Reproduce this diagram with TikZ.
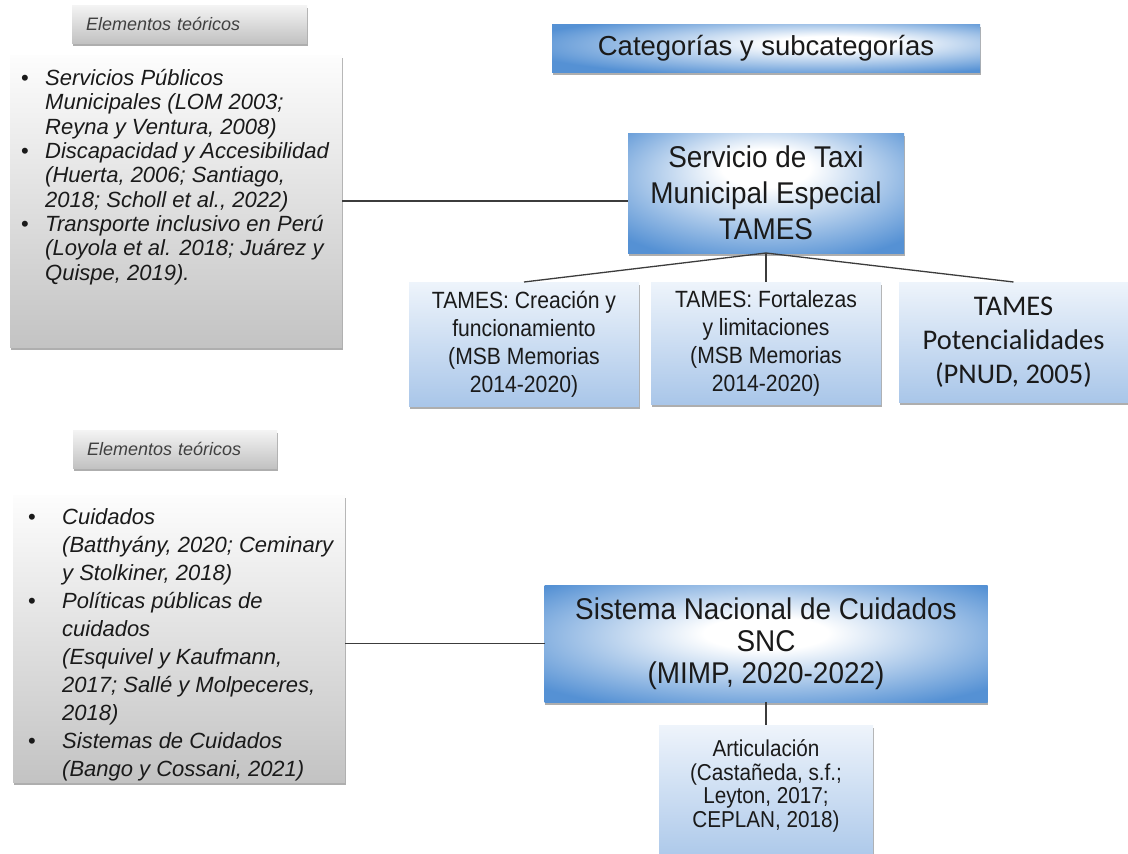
\documentclass[tikz,border=0pt]{standalone}
\usepackage{fontspec}
\setmainfont{Liberation Sans}
\newfontfamily\carlito{Carlito}
\newfontfamily\narrowsans[FakeStretch=0.9]{Liberation Sans}
\newfontfamily\tallsans[FakeStretch=0.93]{Liberation Sans}
\usetikzlibrary{shadows}
\definecolor{bluebox}{HTML}{5591D4}
\definecolor{lbtop}{HTML}{EEF4FB}
\definecolor{lbbot}{HTML}{A9C6E9}
\definecolor{grtop}{HTML}{FDFDFD}
\definecolor{grbot}{HTML}{C3C3C3}
\definecolor{labtop}{HTML}{F4F4F4}
\definecolor{labbot}{HTML}{C2C2C2}
\definecolor{txt}{HTML}{1A1A1A}
\definecolor{conncol}{HTML}{3C3C3C}
\pgfdeclareradialshading{catrad}{\pgfpoint{9bp}{6bp}}{color(0bp)=(white); color(7bp)=(white); color(33bp)=(bluebox); color(60bp)=(bluebox)}
\pgfdeclareradialshading{tamesrad}{\pgfpoint{0bp}{12bp}}{color(0bp)=(white); color(8bp)=(white); color(35bp)=(bluebox); color(60bp)=(bluebox)}
\pgfdeclareradialshading{sncrad}{\pgfpoint{0bp}{5bp}}{color(0bp)=(white); color(7bp)=(white); color(33bp)=(bluebox); color(60bp)=(bluebox)}
\newcommand{\blt}[1]{\makebox[#1][l]{\upshape\textbullet}}
\newcommand{\myind}[1]{\hspace*{#1}}
\tikzset{
  shadowed/.style={drop shadow={shadow xshift=0.8pt,shadow yshift=-3pt,opacity=0.45,fill=black!70}},
  boxbase/.style={rectangle, inner sep=0pt, outer sep=0pt, shadowed, text=txt},
  labbox/.style={boxbase, top color=labtop, bottom color=labbot, inner xsep=14pt, align=left,
    font=\itshape\fontsize{18}{20}\selectfont, text=black!75},
  litbox/.style={boxbase, top color=grtop, bottom color=grbot},
  bigblue/.style={boxbase, align=center},
  childbox/.style={boxbase, top color=lbtop, bottom color=lbbot, align=center,
    font=\narrowsans\fontsize{23.5}{28}\selectfont},
  listtext/.style={anchor=west, inner sep=0pt, align=left, text=txt},
  conn/.style={draw=conncol, line width=1.3pt}
}
\begin{document}
\begin{tikzpicture}[x=1pt,y=-1pt]
\clip (0,0) rectangle (1128,854);
\fill[white] (0,0) rectangle (1128,854);

% top-left group
\node[labbox, minimum width=235pt, minimum height=38pt, text width=207pt] (lab1) at (189.5,24) {Elementos teóricos};
\node[litbox, minimum width=332pt, minimum height=292pt] (lit1) at (176,201) {};
\node[listtext, font=\itshape\fontsize{22}{24.3}\selectfont] (t1) at (21,177) {%
\blt{24pt}Servicios Públicos\\
\myind{24pt}Municipales (LOM 2003;\\
\myind{24pt}Reyna y Ventura, 2008)\\
\blt{24pt}Discapacidad y Accesibilidad\\
\myind{24pt}(Huerta, 2006; Santiago,\\
\myind{24pt}2018; Scholl et al., 2022)\\
\blt{24pt}Transporte inclusivo en Perú\\
\myind{24pt}(Loyola et al. 2018; Juárez y\\
\myind{24pt}Quispe, 2019).};

% header
\node[bigblue, shading=catrad, minimum width=428pt, minimum height=48pt,
  font=\fontsize{27.5}{30}\selectfont] (cat) at (766,48) {Categorías y subcategorías};

% TAMES
\node[bigblue, shading=tamesrad, minimum width=276pt, minimum height=120pt,
  font=\tallsans\fontsize{30}{36}\selectfont] (tames) at (766,193) {Servicio de Taxi\\Municipal Especial\\TAMES};

\node[childbox, minimum width=230pt, minimum height=124pt] (c1) at (524,344)
  {TAMES: Creación y\\funcionamiento\\(MSB Memorias\\2014-2020)};
\node[childbox, minimum width=230pt, minimum height=122pt] (c2) at (766,343)
  {TAMES: Fortalezas\\y limitaciones\\(MSB Memorias\\2014-2020)};
\node[childbox, minimum width=229pt, minimum height=120pt, font=\carlito\fontsize{28.5}{34}\selectfont] (c3) at (1013.5,342)
  {TAMES\\Potencialidades\\(PNUD, 2005)};

% bottom-left group
\node[labbox, minimum width=204pt, minimum height=38pt, text width=176pt] (lab2) at (175,449) {Elementos teóricos};
\node[litbox, minimum width=332pt, minimum height=287pt] (lit2) at (179,638.5) {};
\node[listtext, font=\itshape\fontsize{22}{28}\selectfont] (t2) at (28,645) {%
\blt{34pt}Cuidados\\
\myind{34pt}(Batthyány, 2020; Ceminary\\
\myind{34pt}y Stolkiner, 2018)\\
\blt{34pt}Políticas públicas de\\
\myind{34pt}cuidados\\
\myind{34pt}(Esquivel y Kaufmann,\\
\myind{34pt}2017; Sallé y Molpeceres,\\
\myind{34pt}2018)\\
\blt{34pt}Sistemas de Cuidados\\
\myind{34pt}(Bango y Cossani, 2021)};

% SNC
\node[bigblue, shading=sncrad, minimum width=443pt, minimum height=117pt,
  font=\tallsans\fontsize{30}{32}\selectfont] (snc) at (766,643.5) {Sistema Nacional de Cuidados\\SNC\\(MIMP, 2020-2022)};

\node[childbox, minimum width=214pt, minimum height=140pt] (art) at (766,795) {};
\node[inner sep=0pt, align=center, text=txt, font=\narrowsans\fontsize{23}{23.5}\selectfont] (artt) at (766,786)
  {Articulación\\(Castañeda, s.f.;\\Leyton, 2017;\\CEPLAN, 2018)};

% connectors
\draw[conn] (lit1.east) -- (lit1.east -| tames.west);
\draw[conn] (tames.south) -- (c1.north);
\draw[conn] (tames.south) -- (c2.north);
\draw[conn] (tames.south) -- (c3.north);
\draw[conn] (snc.west) -- (snc.west -| lit2.east);
\draw[conn] (snc.south) -- (art.north);
\end{tikzpicture}
\end{document}
